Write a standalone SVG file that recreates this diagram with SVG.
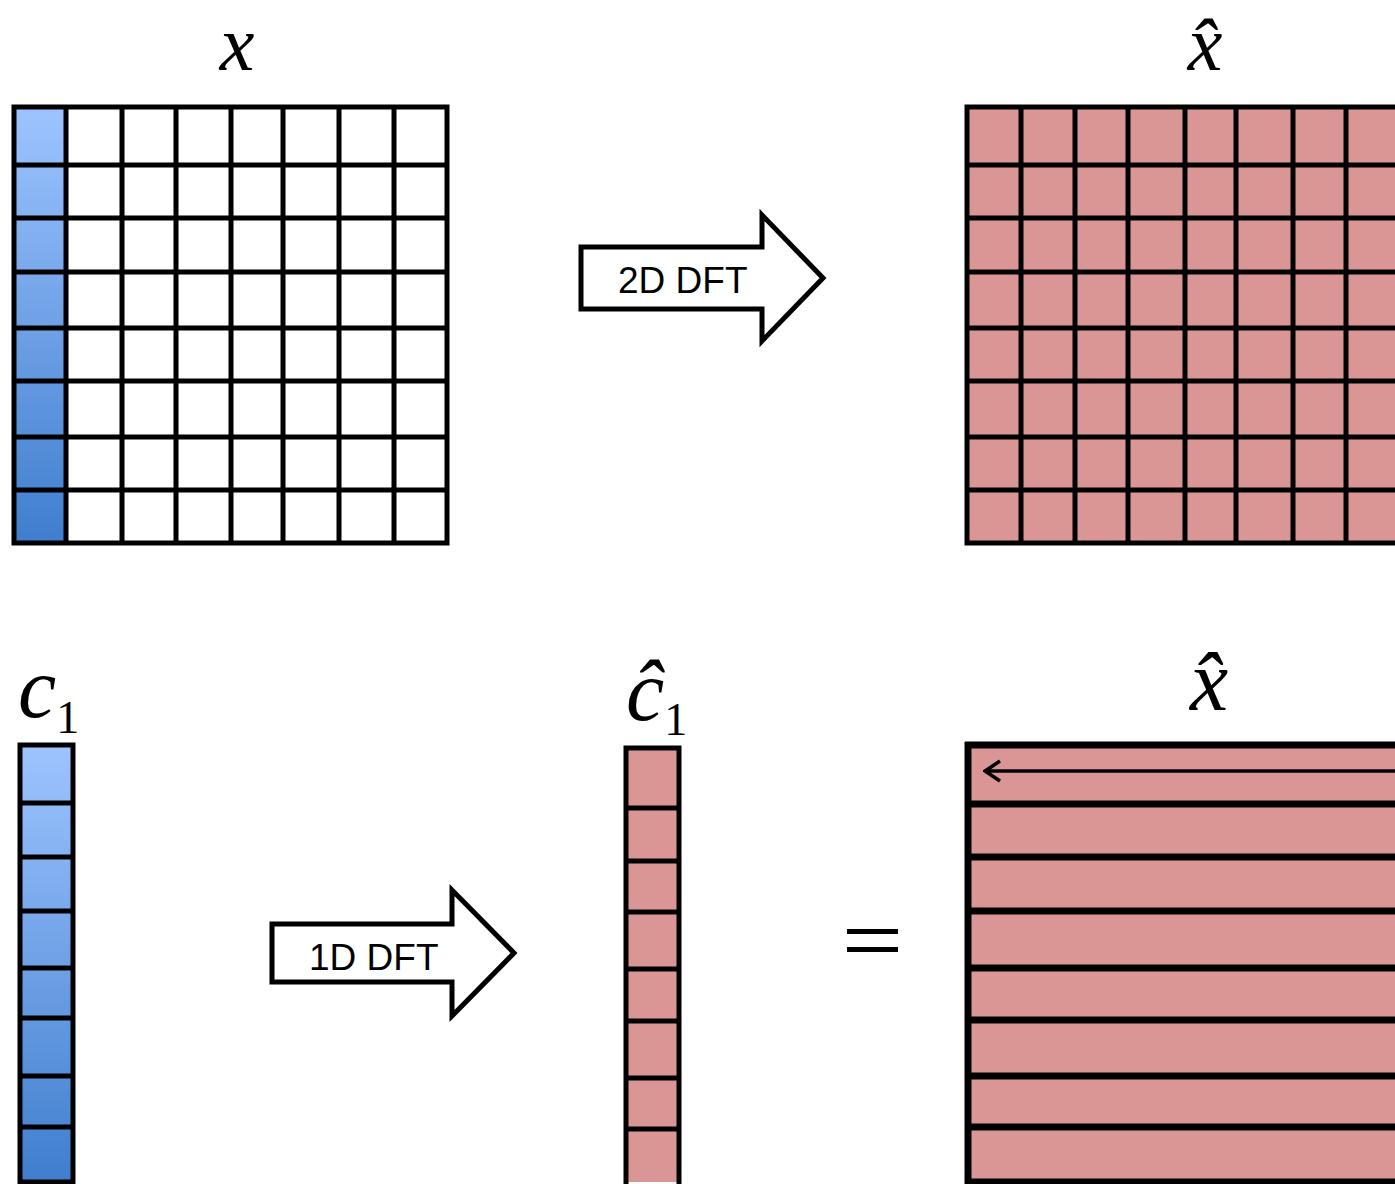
<svg xmlns="http://www.w3.org/2000/svg" width="1395" height="1184" viewBox="0 0 1395 1184">
<defs>
<linearGradient id="blueCol" x1="0" y1="0" x2="0" y2="1">
<stop offset="0" stop-color="#9EC4FF"/>
<stop offset="1" stop-color="#3F7ECD"/>
</linearGradient>
<marker id="chev" viewBox="0 0 20 24" refX="18" refY="12" markerWidth="20" markerHeight="24" markerUnits="userSpaceOnUse" orient="auto">
<path d="M3,2 L18,12 L3,22" fill="none" stroke="#000" stroke-width="3.5"/>
</marker>
</defs>
<style>
.ln{stroke:#000;stroke-width:5;fill:none;stroke-linecap:square}
.thick{stroke:#000;stroke-width:7;fill:none}
.pink{fill:#D99694}
.math{font-family:"Liberation Serif","DejaVu Serif",serif;font-style:italic;fill:#000}
.sub{font-family:"Liberation Serif","DejaVu Serif",serif;fill:#000}
.lbl{font-family:"Liberation Sans",Arial,sans-serif;font-size:37px;fill:#000}
.barrow{fill:#fff;stroke:#000;stroke-width:5;stroke-linejoin:miter}
</style>
<rect width="1395" height="1184" fill="#fff"/>

<g id="label-x"><text class="math" x="237" y="70" font-size="78" text-anchor="middle">x</text></g>
<g id="label-xhat-top"><text class="math" x="1205" y="70" font-size="78" text-anchor="middle">x̂</text></g>

<g id="grid-x">
<rect x="14" y="107" width="433" height="436" fill="#fff"/>
<rect x="14" y="107" width="52" height="436" fill="url(#blueCol)"/>
<path class="ln" d="M14,107V543M66,107V543M122,107V543M176,107V543M231,107V543M283,107V543M339,107V543M394,107V543M447,107V543M14,107H447M14,165H447M14,218H447M14,272H447M14,328H447M14,381H447M14,437H447M14,490H447M14,543H447"/>
</g>

<g id="arrow-2d-dft">
<polygon class="barrow" points="581,247 762,247 762,215 823,278 762,341 762,309 581,309"/>
<text class="lbl" x="618" y="293">2D DFT</text>
</g>

<g id="grid-xhat-top">
<rect class="pink" x="967" y="107" width="440" height="436"/>
<path class="ln" d="M967,107V543M1021,107V543M1075,107V543M1128,107V543M1185,107V543M1236,107V543M1293,107V543M1346,107V543M967,107H1400M967,165H1400M967,218H1400M967,272H1400M967,328H1400M967,381H1400M967,437H1400M967,490H1400M967,543H1400"/>
</g>

<g id="label-c1"><text x="18" y="717"><tspan class="math" font-size="86">c</tspan><tspan class="sub" font-size="46" dx="0" dy="16">1</tspan></text></g>
<g id="col-c1">
<rect x="20" y="745" width="53" height="437" fill="url(#blueCol)"/>
<path class="ln" d="M20,745V1182M73,745V1182M20,745H73M20,803H73M20,857H73M20,911H73M20,968H73M20,1018H73M20,1076H73M20,1127H73M20,1182H73"/>
</g>

<g id="arrow-1d-dft">
<polygon class="barrow" points="272,924 452,924 452,890 514,953 452,1016 452,982 272,982"/>
<text class="lbl" x="309" y="970">1D DFT</text>
</g>

<g id="label-c1hat"><text x="626" y="720"><tspan class="math" font-size="86">ĉ</tspan><tspan class="sub" font-size="46" dx="0" dy="15">1</tspan></text></g>
<g id="col-c1hat">
<rect class="pink" x="626" y="748" width="53" height="434"/>
<path class="ln" d="M626,748V1182M679,748V1182M626,748H679M626,808H679M626,861H679M626,912H679M626,969H679M626,1021H679M626,1078H679M626,1129H679"/>
</g>

<g id="equals">
<rect x="847" y="929" width="51" height="5" fill="#000"/>
<rect x="847" y="947" width="51" height="5" fill="#000"/>
</g>

<g id="label-xhat-bottom"><text class="math" x="1209" y="710" font-size="86" text-anchor="middle">x̂</text></g>
<g id="grid-xhat-rows">
<rect class="pink" x="968" y="745" width="440" height="437"/>
<path class="thick" d="M968,742V1184M965,745H1400M968,804H1400M968,857H1400M968,911H1400M968,968H1400M968,1020H1400M968,1076H1400M968,1127H1400M968,1182H1400"/>
</g>

<g id="connectors">
<path d="M1400,771H985" stroke="#000" stroke-width="3.5" fill="none" marker-end="url(#chev)"/>
</g>
</svg>
